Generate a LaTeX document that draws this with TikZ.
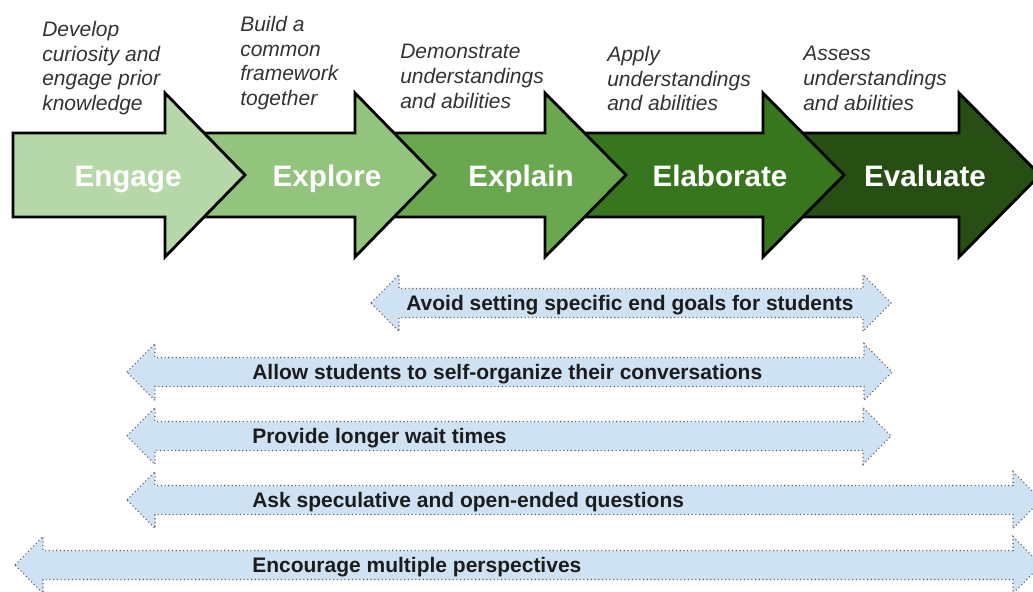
\documentclass[tikz,border=0pt]{standalone}
\usepackage{fontspec}
\setmainfont{Liberation Sans}
\definecolor{engagegreen}{HTML}{B6D7A8}
\definecolor{exploregreen}{HTML}{93C47D}
\definecolor{explaingreen}{HTML}{6AA84F}
\definecolor{elaborategreen}{HTML}{38761D}
\definecolor{evaluategreen}{HTML}{274E13}
\definecolor{hintblue}{HTML}{CFE2F3}
\definecolor{hintedge}{HTML}{5A5A5A}
\definecolor{hintink}{HTML}{1C1C1C}
\definecolor{noteink}{HTML}{333333}

% one stage of the cycle: fill colour, shaft start, head base, tip
\newcommand\stagearrow[4]{%
  \filldraw[stagebody,fill=#1] (#2,133) -- (#3,133) -- (#3,93) -- (#4,175)
    -- (#3,257) -- (#3,217) -- (#2,217) -- cycle;}
% two-headed strategy band: left tip, right tip, centre line
\newcommand\hintarrow[3]{%
  \filldraw[hintbody] (#1,#3) -- (#1+28,#3-28.5) -- (#1+28,#3-14.5)
    -- (#2-28,#3-14.5) -- (#2-28,#3-28.5) -- (#2,#3) -- (#2-28,#3+28.5)
    -- (#2-28,#3+14.5) -- (#1+28,#3+14.5) -- (#1+28,#3+28.5) -- cycle;}

\begin{document}
\begin{tikzpicture}[x=0.75pt,y=-0.75pt,
  stagebody/.style={draw=black,line width=2.1pt,line join=miter},
  stagetext/.style={text=white,inner sep=0,anchor=base,
    font=\bfseries\fontsize{22.2pt}{26pt}\selectfont},
  notetext/.style={align=left,anchor=north west,inner sep=0,text=noteink,
    font=\itshape\fontsize{15.75pt}{18.5pt}\selectfont},
  hintbody/.style={fill=hintblue,draw=hintedge,line width=0.8pt,
    dash pattern=on 0.8pt off 2pt},
  hinttext/.style={anchor=base west,inner sep=0,text=hintink,
    font=\bfseries\fontsize{15.75pt}{18pt}\selectfont}]
\useasboundingbox (0,0) rectangle (1033,592);
\clip (0,0) rectangle (1033,592);

% the five stages, drawn back to front so each head overlaps the next shaft
\stagearrow{evaluategreen}{780}{959}{1040}
\stagearrow{elaborategreen}{580}{763}{844}
\stagearrow{explaingreen}{370}{545}{626}
\stagearrow{exploregreen}{180}{355}{435}
\stagearrow{engagegreen}{13}{165}{245}

\node[stagetext] (engage)    at (128,186.6) {Engage};
\node[stagetext] (explore)   at (327,186.6) {Explore};
\node[stagetext] (explain)   at (521,186.6) {Explain};
\node[stagetext] (elaborate) at (720,186.6) {Elaborate};
\node[stagetext] (evaluate)  at (925,186.6) {Evaluate};

% what each stage is for
\node[notetext] (develop)     at (42,21)  {Develop\\curiosity and\\engage prior\\knowledge};
\node[notetext] (build)       at (240,16) {Build a\\common\\framework\\together};
\node[notetext] (demonstrate) at (400,44) {Demonstrate\\understandings\\and abilities};
\node[notetext] (apply)       at (607,46) {Apply\\understandings\\and abilities};
\node[notetext] (assess)      at (803,46) {Assess\\understandings\\and abilities};

% teaching strategies and the stages they span
\hintarrow{371}{891}{303}
\hintarrow{127}{892}{372}
\hintarrow{127}{891}{436}
\hintarrow{127}{1041}{500}
\hintarrow{15}{1041}{565}

\node[hinttext] (avoid)     at (406,310.5) {Avoid setting specific end goals for students};
\node[hinttext] (allow)     at (252,379.5) {Allow students to self-organize their conversations};
\node[hinttext] (wait)      at (252,443.5) {Provide longer wait times};
\node[hinttext] (ask)       at (252,507.5) {Ask speculative and open-ended questions};
\node[hinttext] (encourage) at (252,572.5) {Encourage multiple perspectives};
\end{tikzpicture}
\end{document}
